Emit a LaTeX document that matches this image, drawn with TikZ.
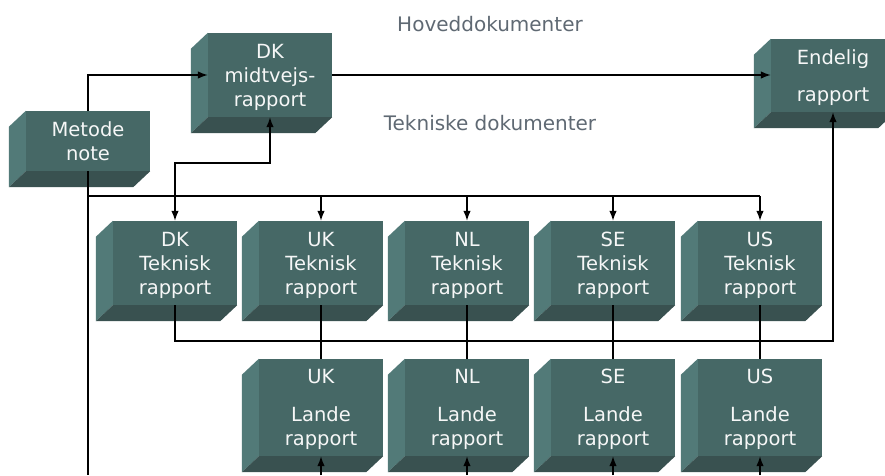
\documentclass[tikz,border=0pt]{standalone}
\usepackage{fontspec}
\setmainfont{DejaVu Sans}
\usetikzlibrary{calc,arrows.meta}

\definecolor{docfront}{RGB}{70,104,102}
\definecolor{docside}{RGB}{82,122,120}
\definecolor{docbase}{RGB}{57,81,80}
\definecolor{labelgray}{RGB}{95,105,115}

\tikzset{
  doc/.style={fill=docfront, text=white!95!docfront, align=center,
    inner sep=0pt, minimum width=124pt, text depth=0pt,
    font=\fontsize{19.5}{24}\selectfont},
  heading/.style={text=labelgray, font=\fontsize{20}{24}\selectfont},
  link/.style={line width=1.4pt},
  feed/.style={link, -{Latex[length=10pt,width=7.5pt]}}
}

% left and bottom faces of a document box
\newcommand\bevel[1]{%
  \fill[docside] (#1.north west) -- ++(-17,16)
    -- ($(#1.south west)+(-17,16)$) -- (#1.south west) -- cycle;
  \fill[docbase] (#1.south west) -- ++(-17,16)
    -- ($(#1.south east)+(-17,16)$) -- (#1.south east) -- cycle;}

\begin{document}
\begin{tikzpicture}[x=1pt,y=-1pt]
  \useasboundingbox (0,0) rectangle (885,475);
  \coordinate (bus) at (0,196);
  \coordinate (hop) at (0,163);
  \coordinate (ring) at (0,341);
  \coordinate (floor) at (0,475);

  \node[heading] at (490,24) (hoved) {Hoveddokumenter};
  \node[heading] at (490,123) (tekn) {Tekniske dokumenter};

  % main documents
  \node[doc, minimum height=60pt] at (88,141) (met) {Metode\\note};
  \node[doc, minimum height=84pt] at (270,75) (dkm) {DK\\midtvejs-\\rapport};
  \node[doc, minimum height=73pt] at (833,75.5) (end) {Endelig\\[13pt]rapport};
  \bevel{met} \bevel{dkm} \bevel{end}

  % technical reports
  \node[doc, minimum height=84pt] at (175,263) (tdk) {DK\\Teknisk\\rapport};
  \node[doc, minimum height=84pt] at (321,263) (tuk) {UK\\Teknisk\\rapport};
  \node[doc, minimum height=84pt] at (467,263) (tnl) {NL\\Teknisk\\rapport};
  \node[doc, minimum height=84pt] at (613,263) (tse) {SE\\Teknisk\\rapport};
  \node[doc, minimum height=84pt] at (760,263) (tus) {US\\Teknisk\\rapport};
  \bevel{tdk} \bevel{tuk} \bevel{tnl} \bevel{tse} \bevel{tus}

  % country reports
  \node[doc, minimum height=97pt] at (321,407.5) (luk) {UK\\[14pt]Lande\\rapport};
  \node[doc, minimum height=97pt] at (467,407.5) (lnl) {NL\\[14pt]Lande\\rapport};
  \node[doc, minimum height=97pt] at (613,407.5) (lse) {SE\\[14pt]Lande\\rapport};
  \node[doc, minimum height=97pt] at (760,407.5) (lus) {US\\[14pt]Lande\\rapport};
  \bevel{luk} \bevel{lnl} \bevel{lse} \bevel{lus}

  \draw[feed] (met.north) |- (dkm.west);
  \draw[feed] (dkm.east) -- (dkm.east -| end.west);
  \draw[link] (met.south) -- (met.south |- floor);
  \draw[link] (met.south |- bus) -- (bus -| tus.north);
  \draw[feed] (bus -| tdk.north) -- (tdk.north);
  \draw[feed] (bus -| tuk.north) -- (tuk.north);
  \draw[feed] (bus -| tnl.north) -- (tnl.north);
  \draw[feed] (bus -| tse.north) -- (tse.north);
  \draw[feed] (bus -| tus.north) -- (tus.north);
  \draw[feed] (bus -| tdk.north) |- (hop -| dkm.south) -- (dkm.south);
  \draw[feed] (tdk.south) |- (ring -| end.south) -- (end.south);

  \draw[link] (tuk.south) -- (luk.north);
  \draw[link] (tnl.south) -- (lnl.north);
  \draw[link] (tse.south) -- (lse.north);
  \draw[link] (tus.south) -- (lus.north);
  \draw[feed] (luk.south |- floor) -- (luk.south);
  \draw[feed] (lnl.south |- floor) -- (lnl.south);
  \draw[feed] (lse.south |- floor) -- (lse.south);
  \draw[feed] (lus.south |- floor) -- (lus.south);
\end{tikzpicture}
\end{document}
